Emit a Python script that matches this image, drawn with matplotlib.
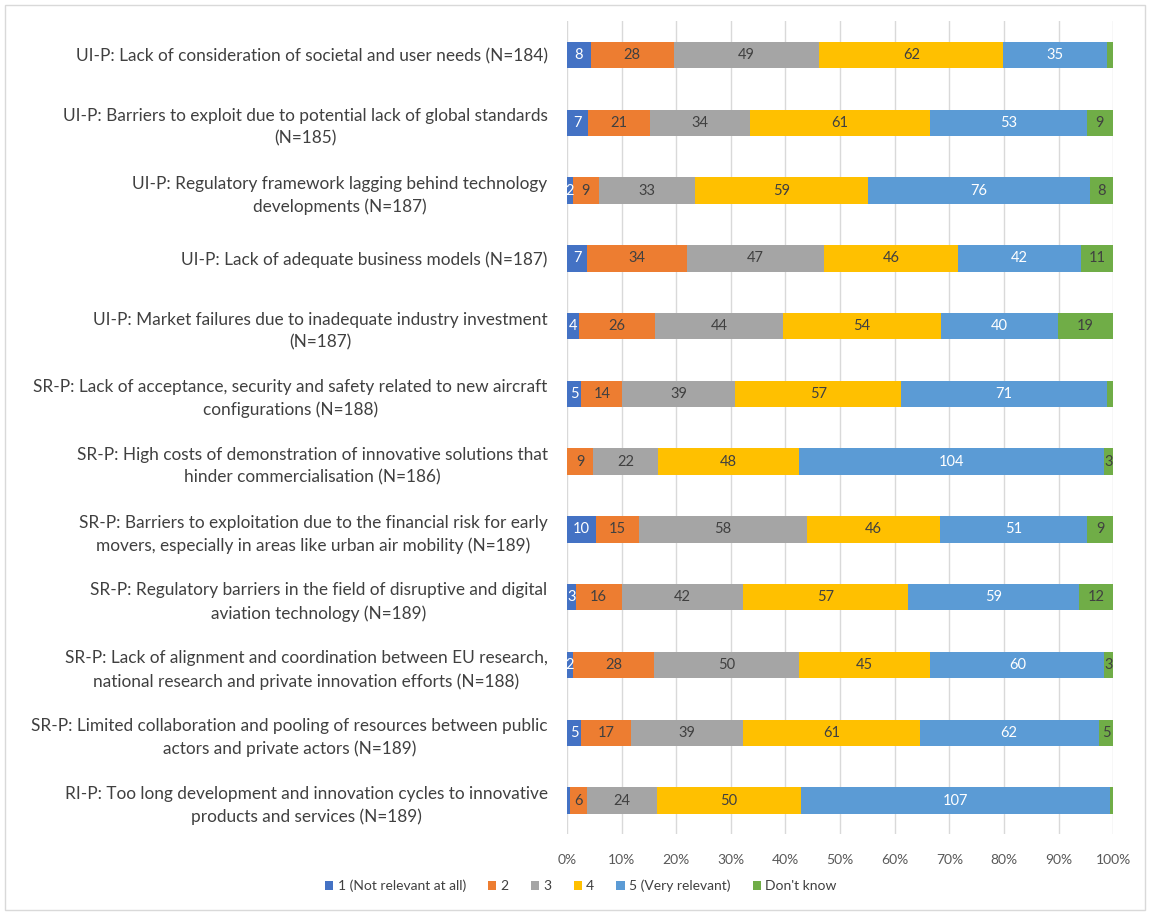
import numpy as np
import matplotlib.pyplot as plt
from matplotlib.patches import Rectangle

plt.rcParams['font.family'] = ['Lato', 'DejaVu Sans']

# barrier statements, top to bottom
labels = [
    'UI-P: Lack of consideration of societal and user needs (N=184)',
    'UI-P: Barriers to exploit due to potential lack of global standards\n(N=185)',
    'UI-P: Regulatory framework lagging behind technology\ndevelopments (N=187)',
    'UI-P: Lack of adequate business models (N=187)',
    'UI-P: Market failures due to inadequate industry investment\n(N=187)',
    'SR-P: Lack of acceptance, security and safety related to new aircraft\nconfigurations (N=188)',
    'SR-P: High costs of demonstration of innovative solutions that\nhinder commercialisation (N=186)',
    'SR-P: Barriers to exploitation due to the financial risk for early\nmovers, especially in areas like urban air mobility (N=189)',
    'SR-P: Regulatory barriers in the field of disruptive and digital\naviation technology (N=189)',
    'SR-P: Lack of alignment and coordination between EU research,\nnational research and private innovation efforts (N=188)',
    'SR-P: Limited collaboration and pooling of resources between public\nactors and private actors (N=189)',
    'RI-P: Too long development and innovation cycles to innovative\nproducts and services (N=189)',
]

# answer counts per statement
r1 = [8, 7, 2, 7, 4, 5, 0, 10, 3, 2, 5, 1]
r2 = [28, 21, 9, 34, 26, 14, 9, 15, 16, 28, 17, 6]
r3 = [49, 34, 33, 47, 44, 39, 22, 58, 42, 50, 39, 24]
r4 = [62, 61, 59, 46, 54, 57, 48, 46, 57, 45, 61, 50]
r5 = [35, 53, 76, 42, 40, 71, 104, 51, 59, 60, 62, 107]
dk = [2, 9, 8, 11, 19, 2, 3, 9, 12, 3, 5, 1]

series = ['1 (Not relevant at all)', '2', '3', '4', '5 (Very relevant)', "Don't know"]
colors = ['#4472C4', '#ED7D31', '#A5A5A5', '#FFC000', '#5B9BD5', '#70AD47']
txtcol = ['white', '#404040', '#404040', '#404040', 'white', '#404040']

counts = np.array([r1, r2, r3, r4, r5, dk], dtype=float)
shares = counts / counts.sum(axis=0)

fig = plt.figure(figsize=(11.5, 9.15), dpi=100)
ax = fig.add_axes([0.493, 0.088, 0.475, 0.889])
y = np.arange(len(labels))

left = np.zeros(len(labels))
for k in range(len(series)):
    ax.barh(y, shares[k], left=left, height=0.39, color=colors[k],
            label=series[k], zorder=3)
    for i in range(len(labels)):
        v = counts[k, i]
        last = k == len(series) - 1
        if v >= 3 or (v == 2 and not last):
            ax.text(left[i] + shares[k, i] / 2, y[i], f'{int(v)}',
                    ha='center', va='center', fontsize=10.5, color=txtcol[k],
                    zorder=4)
    left += shares[k]

ax.set_xlim(0, 1)
ax.set_ylim(len(labels) - 0.5, -0.5)
ax.set_xticks(np.arange(0, 1.01, 0.1))
ax.set_xticklabels([f'{int(round(t * 100))}%' for t in np.arange(0, 1.01, 0.1)])
ax.set_yticks(y)
ax.set_yticklabels(labels)
for lbl in ax.get_yticklabels():
    lbl.set_multialignment('center')
    lbl.set_linespacing(1.5)
ax.tick_params(axis='y', length=0, labelsize=12.4, labelcolor='#404040', pad=14)
ax.tick_params(axis='x', length=0, labelsize=10, labelcolor='#595959', pad=14)
ax.grid(axis='x', color='#D9D9D9', linewidth=1, zorder=0)
for s in ax.spines.values():
    s.set_visible(False)

ax.legend(loc='center', bbox_to_anchor=(0.505, 0.032), bbox_transform=fig.transFigure,
          ncol=6, frameon=False, fontsize=10, handlelength=0.6, handleheight=0.6,
          handletextpad=0.3, columnspacing=1.6, labelcolor='#404040')

fig.patches.append(Rectangle((0.004, 0.005), 0.992, 0.99, transform=fig.transFigure,
                             fill=False, edgecolor='#D9D9D9', linewidth=1))

fig.savefig('out.png', dpi=100, facecolor='white')
